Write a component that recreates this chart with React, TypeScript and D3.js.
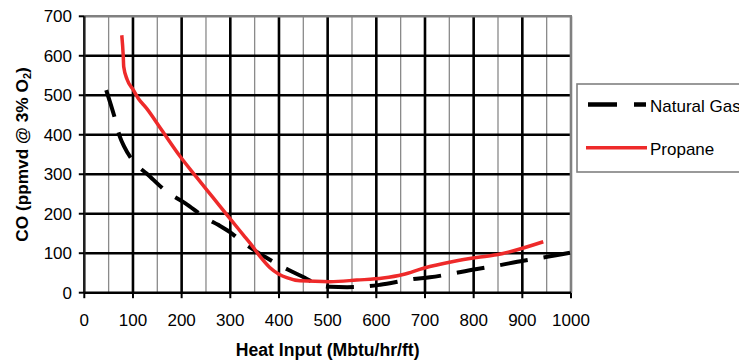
import React from "react";
import * as d3 from "d3";

const xTicks = [0, 100, 200, 300, 400, 500, 600, 700, 800, 900, 1000];
const yTicks = [0, 100, 200, 300, 400, 500, 600, 700];
const xMinor = [50, 150, 250, 350, 450, 550, 650, 750, 850, 950];

const gasX = [45, 63, 73, 82, 104, 128, 169, 207, 251, 275, 300, 323, 371, 419, 453, 481, 505, 540, 570, 608, 673, 710, 807, 846, 902, 943, 998];
const gasY = [513, 441, 395, 370, 328, 302, 256, 227, 188, 172, 153, 130, 91, 58, 38, 20, 15, 14, 15, 20, 34, 39, 60, 68, 81, 89, 101];

const propX = [77, 80, 81, 88, 101, 111, 128, 159, 197, 231, 265, 299, 327, 341, 361, 381, 400, 416, 443, 505, 560, 614, 655, 697, 758, 806, 847, 943];
const propY = [652, 600, 572, 540, 513, 492, 467, 412, 345, 292, 240, 188, 146, 125, 92, 64, 47, 38, 30, 28, 32, 37, 46, 62, 79, 89, 96, 129];

const seriesNames = ["Natural Gas", "Propane"];

const W = 739;
const H = 364;
const FONT = "'Liberation Sans', Arial, sans-serif";

export default function App() {
  const x = d3.scaleLinear().domain([0, 1000]).range([84.3, 571]);
  const y = d3.scaleLinear().domain([0, 700]).range([292.7, 16.3]);

  const line = d3
    .line<[number, number]>()
    .x((d) => x(d[0]))
    .y((d) => y(d[1]))
    .curve(d3.curveMonotoneX);

  const gas = gasX.map((v, i) => [v, gasY[i]] as [number, number]);
  const prop = propX.map((v, i) => [v, propY[i]] as [number, number]);

  const [x0, x1] = x.range();
  const [y0, y1] = y.range();

  return (
    <svg
      width={W}
      height={H}
      style={{ position: "absolute", left: 0, top: 0, background: "#fff" }}
      fontFamily={FONT}
    >
      <rect x={0} y={0} width={W} height={H} fill="#fff" />
      {xMinor.map((t) => (
        <line key={"m" + t} x1={x(t)} x2={x(t)} y1={y1} y2={y0} stroke="#8a8a8a" strokeWidth={1.3} />
      ))}
      {xTicks.slice(1, -1).map((t) => (
        <line key={"v" + t} x1={x(t)} x2={x(t)} y1={y1} y2={y0} stroke="#000" strokeWidth={2.6} />
      ))}
      {yTicks.slice(1, -1).map((t) => (
        <line key={"h" + t} x1={x0} x2={x1} y1={y(t)} y2={y(t)} stroke="#000" strokeWidth={2.6} />
      ))}
      <line x1={x0} x2={x1 + 1} y1={y1} y2={y1} stroke="#808080" strokeWidth={2.6} />
      <line x1={x1} x2={x1} y1={y1} y2={y0} stroke="#808080" strokeWidth={2.6} />
      <line x1={x0} x2={x0} y1={y1} y2={y0} stroke="#202020" strokeWidth={2.6} />
      <line x1={x0} x2={x1} y1={y0} y2={y0} stroke="#000" strokeWidth={2.6} />
      {yTicks.map((t) => (
        <line key={"yt" + t} x1={x0 - 5.5} x2={x0} y1={y(t)} y2={y(t)} stroke="#000" strokeWidth={2} />
      ))}
      {xTicks.map((t) => (
        <line key={"xt" + t} x1={x(t)} x2={x(t)} y1={y0} y2={y0 + 5.5} stroke="#000" strokeWidth={2} />
      ))}
      {yTicks.map((t) => (
        <text key={"yl" + t} x={72} y={y(t)} dy="0.36em" textAnchor="end" fontSize={17} fill="#000">
          {t}
        </text>
      ))}
      {xTicks.map((t) => (
        <text key={"xl" + t} x={x(t)} y={326} textAnchor="middle" fontSize={17} fill="#000">
          {t}
        </text>
      ))}
      <text x={(x0 + x1) / 2} y={356} textAnchor="middle" fontSize={17.6} fontWeight="bold" fill="#000">
        Heat Input (Mbtu/hr/ft)
      </text>
      <text
        transform={`translate(28, ${(y0 + y1) / 2}) rotate(-90)`}
        textAnchor="middle"
        fontSize={17.3}
        fontWeight="bold"
        fill="#000"
      >
        CO (ppmvd @ 3% O<tspan fontSize={11} dy={3}>2</tspan>
        <tspan dy={-3}>)</tspan>
      </text>
      <path d={line(gas) || ""} fill="none" stroke="#000" strokeWidth={4} strokeDasharray="28,16" />
      <path d={line(prop) || ""} fill="none" stroke="#ee2a2a" strokeWidth={3.5} />
      <rect x={577} y={84} width={200} height={88} fill="#fff" stroke="#808080" strokeWidth={1.6} />
      <line x1={588} x2={646} y1={104.5} y2={104.5} stroke="#000" strokeWidth={4.5} strokeDasharray="29,17" />
      <line x1={586} x2={647} y1={147.7} y2={147.7} stroke="#ee2a2a" strokeWidth={3.5} />
      <text x={650} y={111.5} fontSize={17} fill="#000">
        {seriesNames[0]}
      </text>
      <text x={650} y={154.5} fontSize={17} fill="#000">
        {seriesNames[1]}
      </text>
    </svg>
  );
}
